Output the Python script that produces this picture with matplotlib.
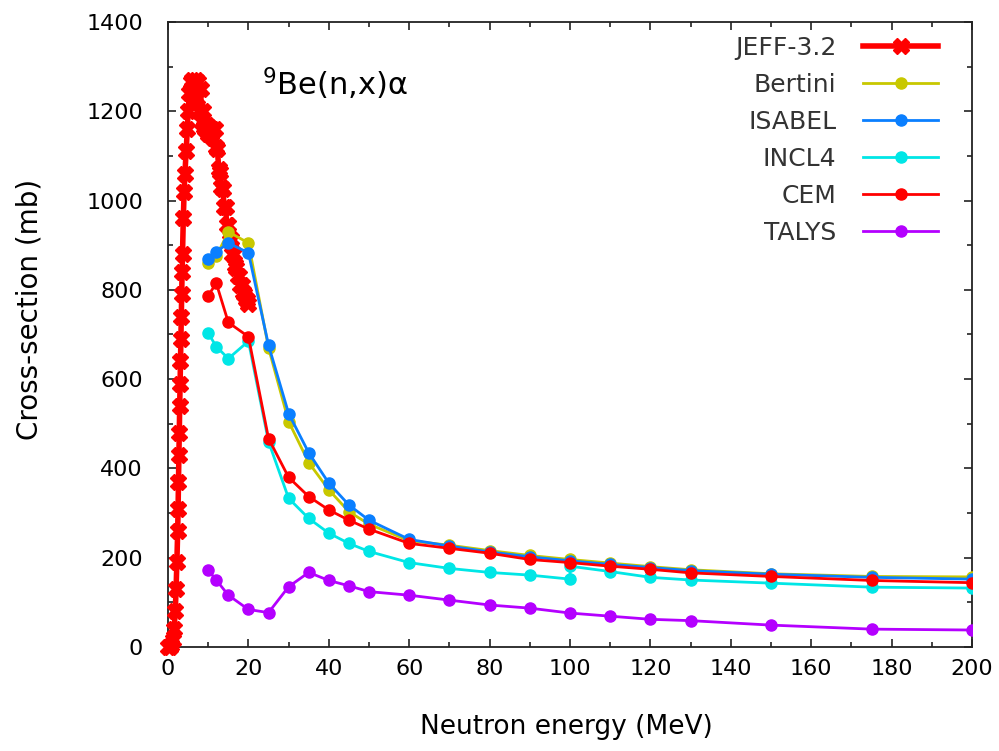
import matplotlib
matplotlib.use("Agg")
import matplotlib.pyplot as plt
from matplotlib.ticker import MultipleLocator

plt.rcParams['font.family'] = ['DejaVu Sans']

# JEFF-3.2 evaluated data (dense, 0-20 MeV)
jeff_e = [0.0, 0.4, 0.8, 1.2, 1.5, 1.8, 2.0, 2.2, 2.4, 2.5, 2.6, 2.7, 2.8, 2.9,
          3.0, 3.1, 3.2, 3.3, 3.4, 3.5, 3.6, 3.8, 4.0, 4.2, 4.5, 4.8, 5.0, 5.3,
          5.6, 6.0, 6.3, 6.6, 6.9, 7.2, 7.5, 7.8, 8.1, 8.4, 8.7, 9.0, 9.3, 9.6,
          10.0, 10.3, 10.6, 11.0, 11.3, 11.6, 12.0, 12.3, 12.6, 13.0, 13.3, 13.6,
          14.0, 14.3, 14.6, 15.0, 15.3, 15.6, 16.0, 16.3, 16.6, 17.0, 17.3, 17.6,
          18.0, 18.3, 18.6, 19.0, 19.3, 19.6, 20.0]
jeff_xs = [0, 0, 5, 15, 40, 80, 130, 190, 260, 310, 370, 430, 480, 540,
           590, 640, 690, 740, 790, 840, 880, 960, 1020, 1060, 1110, 1160, 1200, 1240,
           1265, 1270, 1265, 1250, 1270, 1230, 1265, 1200, 1250, 1175, 1200, 1165, 1160, 1170,
           1150, 1165, 1150, 1160, 1140, 1160, 1120, 1115, 1070, 1065, 1030, 1025,
           985, 985, 945, 945, 910, 915, 880, 880, 855, 850, 830, 830,
           810, 810, 795, 790, 780, 778, 768]

# model calculations
e_model = [10, 12, 15, 20, 25, 30, 35, 40, 45, 50, 60, 70, 80, 90, 100,
           110, 120, 130, 150, 175, 200]
bertini = [860, 875, 930, 905, 670, 505, 413, 352, 303, 275, 238, 228, 216, 205, 196,
           188, 180, 173, 164, 158, 157]
isabel = [868, 885, 905, 883, 676, 523, 435, 367, 318, 284, 241, 226, 213, 202, 193,
          185, 178, 171, 163, 156, 152]
cem = [787, 815, 727, 695, 467, 380, 337, 307, 284, 264, 232, 221, 210, 196, 189,
       181, 174, 166, 158, 149, 144]
talys = [172, 150, 116, 84, 77, 135, 167, 149, 137, 124, 116, 105, 94, 87, 76,
         69, 62, 59, 49, 40, 38]

# INCL4 has two values at 100 MeV
e_incl = [10, 12, 15, 20, 25, 30, 35, 40, 45, 50, 60, 70, 80, 90, 100, 100,
          110, 120, 130, 150, 175, 200]
incl4 = [703, 673, 646, 685, 460, 333, 288, 255, 232, 214, 189, 176, 167, 161, 152, 181,
         169, 156, 150, 143, 134, 132]

fig = plt.figure(figsize=(9.99, 7.51), dpi=100)
ax = fig.add_axes([0.1682, 0.1385, 0.8048, 0.8322])

ax.plot(jeff_e, jeff_xs, color='#ff0000', lw=4, marker='X', ms=12,
        label='JEFF-3.2', clip_on=False, zorder=3)
ax.plot(e_model, bertini, color='#c8c800', lw=2, marker='o', ms=8, label='Bertini', zorder=4)
ax.plot(e_model, isabel, color='#0a7fff', lw=2, marker='o', ms=8, label='ISABEL', zorder=5)
ax.plot(e_incl, incl4, color='#00e6e6', lw=2, marker='o', ms=8, label='INCL4', zorder=4)
ax.plot(e_model, cem, color='#ff0000', lw=2, marker='o', ms=8, label='CEM', zorder=6)
ax.plot(e_model, talys, color='#b400ff', lw=2, marker='o', ms=8, label='TALYS', zorder=4)

ax.set_xlim(0, 200)
ax.set_ylim(0, 1400)
ax.xaxis.set_major_locator(MultipleLocator(20))
ax.xaxis.set_minor_locator(MultipleLocator(10))
ax.yaxis.set_major_locator(MultipleLocator(200))
ax.yaxis.set_minor_locator(MultipleLocator(100))
ax.tick_params(which='both', direction='in', top=True, right=True, width=1.2, colors='#222222')
ax.tick_params(which='major', length=6)
ax.tick_params(which='minor', length=3.5)
ax.tick_params(axis='y', pad=18, labelsize=16, labelcolor='black')
ax.tick_params(axis='x', pad=9, labelsize=16, labelcolor='black')
for s in ax.spines.values():
    s.set_linewidth(1.3)
    s.set_color('#222222')

ax.set_xlabel('Neutron energy (MeV)', fontsize=19)
ax.set_ylabel('Cross-section (mb)', fontsize=20)
ax.xaxis.set_label_coords(0.495, -0.107)
ax.yaxis.set_label_coords(-0.155, 0.54)

ax.text(0.117, 0.902, '$^{9}$Be(n,x)α', transform=ax.transAxes, fontsize=22, va='center')

leg = ax.legend(loc='upper right', bbox_to_anchor=(0.98, 1.006), markerfirst=False,
                frameon=False, fontsize=18, handlelength=3.0, handletextpad=1.08,
                labelspacing=0.52, numpoints=1, borderpad=0.2)
for t in leg.get_texts():
    t.set_color('#333333')

fig.savefig('out.png', dpi=100)
